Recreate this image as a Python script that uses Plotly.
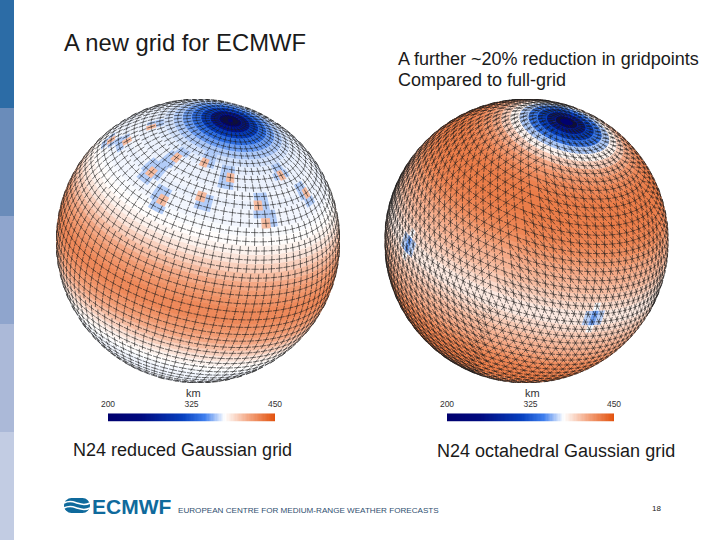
import math
import plotly.graph_objects as go
from plotly.colors import sample_colorscale
from plotly.subplots import make_subplots

OUT_FILE = "out.html"

# gaussian latitudes of N24 (north hemisphere, pole to equator)
GAUSS_LATS = [87.16, 83.48, 79.78, 76.07, 72.36, 68.65, 64.94, 61.23, 57.52, 53.81, 50.10, 46.39,
              42.68, 38.97, 35.26, 31.55, 27.84, 24.12, 20.41, 16.70, 12.99, 9.28, 5.57, 1.86]

# points per ring
REDUCED_NLON = [20, 27, 32, 40, 45, 48, 54, 60, 64, 64, 72, 72, 75, 75, 80, 80, 90, 90, 90, 96,
                96, 96, 96, 96]
OCTA_NLON = [20, 24, 28, 32, 36, 40, 44, 48, 52, 56, 60, 64, 68, 72, 76, 80, 84, 88, 92, 96,
             100, 104, 108, 112]

# grid spacing in km, read per ring from the colours
REDUCED_KM = [205, 260, 305, 335, 352, 362, 368, 371, 372, 372, 373, 372,
              373, 373, 374, 376, 380, 386, 394, 402, 410, 416, 420, 424]
OCTA_KM = [205, 265, 310, 340, 362, 380, 395, 410, 418, 424, 428, 430,
           430, 430, 428, 426, 422, 416, 410, 406, 402, 396, 390, 384]

# local spots on the reduced grid: lat, lon relative to centre
REDUCED_SPOT_LAT = [46.6, 57.6, 62.0, 57.8, 58.4, 46.6, 39.0, 46.0, 46.6, 39.6, 45.7, 37.6, 57.9]
REDUCED_SPOT_LON = [-39.9, -35.2, -10.5, 9.7, 56.0, 68.8, -25.7, -3.4, 32.3, 35.0, -76.8, -86.5, -81.0]
REDUCED_SPOT_KM = 402
REDUCED_HALO_KM = 363

# octahedron vertices on the equator
OCTA_SPOT_LON = [0, 90, 180, 270]
OCTA_SPOT_KM = 352
OCTA_SIDE_KM = 364
OCTA_HALO_KM = 374

# view of each globe: centre lon, centre lat, tilt of the pole
LEFT_VIEW = (0, 28.5, 15)
RIGHT_VIEW = (51.6, 27.7, 18.6)

COLOR_STOPS = [[0.0, "#00006e"], [0.2, "#000a80"], [0.45, "#0640c0"], [0.58, "#3f7fee"],
               [0.7, "#ffffff"], [0.85, "#f3a27c"], [1.0, "#e2520e"]]
CBAR_KM = list(range(200, 451, 2))
CBAR_TICKS = [200, 325, 450]
SIDEBAR_COLORS = ["#2c6ca6", "#6a8cba", "#8fa5cd", "#abb9d8", "#c2cce3"]

FONT = "Liberation Sans"


def project(lat, lon, view):
    lon0, lat0, roll = view
    p, l = math.radians(lat), math.radians(lon - lon0)
    p0, t = math.radians(lat0), math.radians(roll)
    x = math.cos(p) * math.sin(l)
    y = math.cos(p0) * math.sin(p) - math.sin(p0) * math.cos(p) * math.cos(l)
    z = math.sin(p0) * math.sin(p) + math.cos(p0) * math.cos(p) * math.cos(l)
    return x * math.cos(t) + y * math.sin(t), -x * math.sin(t) + y * math.cos(t), z


def lon_gap(a, b):
    return abs((a - b + 180) % 360 - 180)


def full_rings(lats, nlons, kms):
    return lats + [-x for x in reversed(lats)], nlons + nlons[::-1], kms + kms[::-1]


def build_cells(lats, nlons, kms, view, local_km=None):
    # cells grouped per value, so each colour is one trace
    groups = {}
    f_lats, f_n, f_km = full_rings(lats, nlons, kms)
    for r, lat in enumerate(f_lats):
        north = 90 if r == 0 else (lat + f_lats[r - 1]) / 2
        south = -90 if r == len(f_lats) - 1 else (lat + f_lats[r + 1]) / 2
        step = 360 / f_n[r]
        for i in range(f_n[r]):
            lon = i * step
            km = f_km[r]
            if local_km:
                km = local_km(lat, lon, step, km)
            w, e = lon - step / 2 - 0.25, lon + step / 2 + 0.25
            top, bot = min(north + 0.25, 90), max(south - 0.25, -90)
            mid = (w + e) / 2
            corners = [(top, w), (top, mid), (top, e), (bot, e), (bot, mid), (bot, w), (top, w)]
            pts = [project(a, b, view) for a, b in corners]
            if all(p[2] < 0 for p in pts):
                continue
            xs, ys = groups.setdefault(km, ([], []))
            for x, y, z in pts:
                if z < 0:
                    h = math.hypot(x, y)
                    x, y = x / h, y / h
                xs.append(x)
                ys.append(y)
            xs.append(None)
            ys.append(None)
    return groups


def reduced_local(lat, lon, step, km):
    for a, b in zip(REDUCED_SPOT_LAT, REDUCED_SPOT_LON):
        if abs(a - lat) < 1.9 and lon_gap(b, lon) < step / 2:
            return REDUCED_SPOT_KM
    for a, b in zip(REDUCED_SPOT_LAT, REDUCED_SPOT_LON):
        if abs(a - lat) < 4 and lon_gap(b, lon) < step * 1.1:
            return REDUCED_HALO_KM
    return km


def octa_local(lat, lon, step, km):
    for b in OCTA_SPOT_LON:
        if abs(lat) < 2 and lon_gap(b, lon) < step * 0.8:
            return OCTA_SPOT_KM
        if abs(lat) < 2 and lon_gap(b, lon) < step * 1.2:
            return OCTA_SIDE_KM
        if abs(lat) < 6 and lon_gap(b, lon) < step * 0.8:
            return OCTA_HALO_KM
    return km


def add_seg(xs, ys, a, b, frac, view):
    # a and b are (lat, lon); only the front of the globe is kept
    pa = project(a[0], a[1], view)
    pb = project(a[0] + (b[0] - a[0]) * frac, a[1] + (b[1] - a[1]) * frac, view)
    if pa[2] < 0 or pb[2] < 0:
        return
    xs += [pa[0], pb[0], None]
    ys += [pa[1], pb[1], None]


def reduced_lines(lats, nlons, kms, view):
    xs, ys = [], []
    f_lats, f_n, _ = full_rings(lats, nlons, kms)
    for r, lat in enumerate(f_lats):
        step = 360 / f_n[r]
        for i in range(f_n[r]):
            lon = i * step
            add_seg(xs, ys, (lat, lon - step * 0.44), (lat, lon + step * 0.44), 1, view)
            add_seg(xs, ys, (lat - 1.65, lon), (lat + 1.65, lon), 1, view)
    return xs, ys


def octa_lines(lats, nlons, kms, view):
    xs, ys = [], []
    f_lats, f_n, _ = full_rings(lats, nlons, kms)
    for r, lat in enumerate(f_lats):
        step = 360 / f_n[r]
        for i in range(f_n[r]):
            lon = i * step
            add_seg(xs, ys, (lat, lon), (lat, lon + step), 0.43, view)
            add_seg(xs, ys, (lat, lon + step), (lat, lon), 0.43, view)
            if r + 1 < len(f_lats):
                next_lat = f_lats[r + 1]
                next_step = 360 / f_n[r + 1]
                k = round(lon / next_step)
                for j in (k, k + 1):
                    b = (next_lat, j * next_step)
                    add_seg(xs, ys, (lat, lon), b, 0.43, view)
                    add_seg(xs, ys, b, (lat, lon), 0.43, view)
    return xs, ys


def km_color(km):
    return sample_colorscale(COLOR_STOPS, [(km - 200) / 250])[0]


def add_globe(fig, groups, line_xy, col):
    for km, (xs, ys) in sorted(groups.items()):
        fig.add_trace(go.Scatter(x=xs, y=ys, mode="none", fill="toself", fillcolor=km_color(km),
                                 hoverinfo="skip", showlegend=False), row=1, col=col)
    fig.add_trace(go.Scatter(x=line_xy[0], y=line_xy[1], mode="lines",
                             line=dict(color="#1a1a1a", width=0.6),
                             hoverinfo="skip", showlegend=False), row=1, col=col)


fig = make_subplots(rows=1, cols=2)
add_globe(fig, build_cells(GAUSS_LATS, REDUCED_NLON, REDUCED_KM, LEFT_VIEW, reduced_local),
          reduced_lines(GAUSS_LATS, REDUCED_NLON, REDUCED_KM, LEFT_VIEW), 1)
add_globe(fig, build_cells(GAUSS_LATS, OCTA_NLON, OCTA_KM, RIGHT_VIEW, octa_local),
          octa_lines(GAUSS_LATS, OCTA_NLON, OCTA_KM, RIGHT_VIEW), 2)

# colour bars are heatmaps on their own km axes
for n, (x0, x1) in zip((3, 4), ((108, 275), (447, 614))):
    fig.add_trace(go.Heatmap(x=CBAR_KM, y=[0], z=[CBAR_KM], zmin=200, zmax=450, colorscale=COLOR_STOPS,
                             showscale=False, hoverinfo="skip", xaxis=f"x{n}", yaxis=f"y{n}"))
    fig.update_layout({
        f"xaxis{n}": dict(domain=[x0 / 720, x1 / 720], range=[200, 450], anchor=f"y{n}", side="top",
                          automargin=False, tickmode="array", tickvals=CBAR_TICKS, ticks="outside",
                          ticklen=2, tickcolor="rgba(0,0,0,0)", showgrid=False, zeroline=False,
                          showline=False, tickfont=dict(family=FONT, size=8.5, color="#333333")),
        f"yaxis{n}": dict(domain=[1 - 421.7 / 540, 1 - 413.3 / 540], anchor=f"x{n}", visible=False,
                          automargin=False),
    })

globe_axis = dict(range=[-1, 1], visible=False, fixedrange=True, automargin=False)
y_domain = [1 - 383 / 540, 1 - 99 / 540]
fig.update_layout(
    xaxis=dict(domain=[56 / 720, 340 / 720], **globe_axis),
    yaxis=dict(domain=y_domain, **globe_axis),
    xaxis2=dict(domain=[384.5 / 720, 668.5 / 720], **globe_axis),
    yaxis2=dict(domain=y_domain, **globe_axis),
)


def px_x(x):
    return x / 720


def px_y(y):
    return 1 - y / 540


shapes = []
for i, c in enumerate(SIDEBAR_COLORS):
    shapes.append(dict(type="rect", xref="paper", yref="paper", x0=0, x1=14 / 720,
                       y0=px_y((i + 1) * 108), y1=px_y(i * 108),
                       fillcolor=c, line_width=0, layer="below"))

# logo: blue blob with two white waves
LOGO_BLUE = "#0f6a9c"
shapes.append(dict(type="rect", xref="paper", yref="paper", x0=px_x(71), x1=px_x(83),
                   y0=px_y(513), y1=px_y(498), fillcolor=LOGO_BLUE, line_width=0))
for cx in (71.5, 82.5):
    shapes.append(dict(type="circle", xref="paper", yref="paper", x0=px_x(cx - 7.5), x1=px_x(cx + 7.5),
                       y0=px_y(513), y1=px_y(498), fillcolor=LOGO_BLUE, line_width=0))
for y in (503, 508):
    shapes.append(dict(type="path", xref="paper", yref="paper",
                       path=f"M {px_x(64)} {px_y(y)} C {px_x(70)} {px_y(y - 3)} {px_x(74)} {px_y(y - 1)} "
                            f"{px_x(77)} {px_y(y)} C {px_x(80)} {px_y(y + 1)} {px_x(84)} {px_y(y + 3)} "
                            f"{px_x(90)} {px_y(y)}",
                       line=dict(color="white", width=1.6)))


def note(text, x, y, size, anchor="left", color="#1a1a1a"):
    return dict(text=text, x=px_x(x), y=px_y(y), xref="paper", yref="paper", showarrow=False,
                xanchor=anchor, yanchor="middle", align="left", xshift=0,
                font=dict(family=FONT, size=size, color=color))


annotations = [
    note("A new grid for ECMWF", 62, 43, 23.8),
    note("A further ~20% reduction in gridpoints", 396, 59, 18),
    note("Compared to full-grid", 396, 80, 18),
    note("N24 reduced Gaussian grid", 71, 450, 18),
    note("N24 octahedral Gaussian grid", 435, 451, 18),
    note("km", 193.8, 393, 11, "center", "#333333"),
    note("km", 532, 393, 11, "center", "#333333"),
    note("<b>ECMWF</b>", 90, 506, 21, color=LOGO_BLUE),
    note("EUROPEAN CENTRE FOR MEDIUM-RANGE WEATHER FORECASTS", 176, 510, 8.1, color="#2f4f6f"),
    note("18", 650, 509, 8, color="#222222"),
]

fig.update_layout(
    width=720, height=540, margin=dict(l=0, r=0, t=0, b=0), paper_bgcolor="white", plot_bgcolor="rgba(0,0,0,0)",
    showlegend=False, shapes=shapes, annotations=annotations,
)

fig.write_html(OUT_FILE, config=dict(displayModeBar=False), post_script="document.body.style.margin='0';")
